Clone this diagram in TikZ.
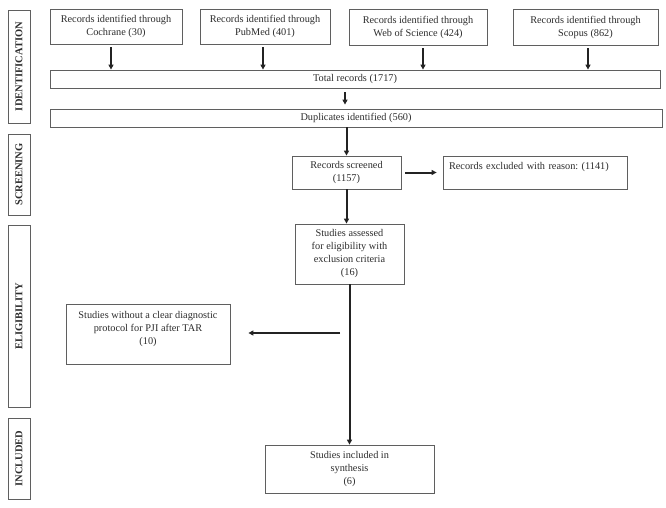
\documentclass[tikz,border=0pt]{standalone}
\usepackage{fontspec}
\setmainfont{Liberation Serif}
\usetikzlibrary{arrows.meta}
\definecolor{boxc}{RGB}{95,95,95}
\definecolor{txtc}{RGB}{45,45,45}
\definecolor{arrc}{RGB}{35,35,35}
\frenchspacing
\begin{document}
\begin{tikzpicture}[x=1pt,y=-1pt,
  box/.style={draw=boxc, line width=0.8pt, inner sep=2pt, align=center, text=txtc,
    font=\fontsize{10.3}{13}\selectfont},
  side/.style={draw=boxc, line width=0.8pt, rotate=90, inner sep=0pt, text=txtc,
    minimum height=22pt, font=\fontsize{10.5}{12}\selectfont\bfseries},
  arr/.style={draw=arrc, line width=2pt, -{Triangle[length=5pt,width=5pt]}}]
\useasboundingbox[fill=white] (0,0) rectangle (666,508);

% stage labels
\node[side, minimum width=113pt] (sid) at (19,66.5) {IDENTIFICATION};
\node[side, minimum width=81pt] (sscr) at (19,174.5) {SCREENING};
\node[side, minimum width=182pt] (seli) at (19,316) {ELIGIBILITY};
\node[side, minimum width=81pt] (sinc) at (19,458.5) {INCLUDED};

% sources
\node[box, minimum width=132pt, minimum height=35pt] (coch) at (116,26.5) {Records identified through\\Cochrane (30)};
\node[box, minimum width=130pt, minimum height=35pt] (pub) at (265,26.5) {Records identified through\\PubMed (401)};
\node[box, minimum width=138pt, minimum height=36pt] (wos) at (418,27) {Records identified through\\Web of Science (424)};
\node[box, minimum width=145pt, minimum height=36pt] (sco) at (585.5,27) {Records identified through\\Scopus (862)};

\node[box, minimum width=610pt, minimum height=18pt, inner sep=0pt] (tot) at (355,79) {Total records (1717)};
\node[box, minimum width=612pt, minimum height=18pt, inner sep=0pt] (dup) at (356,118) {Duplicates identified (560)};

\node[box, minimum width=109pt, minimum height=33pt] (scr) at (346.5,172.5) {Records screened\\(1157)};
\node[box, minimum width=184pt, minimum height=33pt, align=left, text width=172pt] (exc) at (535,172.5) {Records excluded with reason: (1141)\\ \mbox{}};
\node[box, minimum width=109pt, minimum height=60pt] (ass) at (349.5,254) {Studies assessed\\for eligibility with\\exclusion criteria\\(16)};
\node[box, minimum width=164pt, minimum height=60pt] (wo) at (148,334) {Studies without a clear diagnostic\\protocol for PJI after TAR\\(10)\\ \mbox{}};
\node[box, minimum width=169pt, minimum height=48pt] (inc) at (349.5,469) {Studies included in\\synthesis\\(6)};

% connectors
\draw[arr] ([xshift=-5pt,yshift=-3pt]coch.south) -- ([xshift=-5pt]coch.south |- tot.north);
\draw[arr] ([xshift=-2pt,yshift=-3pt]pub.south) -- ([xshift=-2pt]pub.south |- tot.north);
\draw[arr] ([xshift=5pt,yshift=-3pt]wos.south) -- ([xshift=5pt]wos.south |- tot.north);
\draw[arr] ([xshift=2.5pt,yshift=-3pt]sco.south) -- ([xshift=2.5pt]sco.south |- tot.north);
\draw[arr] ([xshift=-10pt,yshift=-4pt]tot.south) -- ([xshift=-10pt,yshift=4pt]tot.south |- dup.north);
\draw[arr] (dup.south -| scr.north) -- (scr.north);
\draw[arr] ([xshift=4pt]scr.east) -- ([xshift=-6pt]exc.west);
\draw[arr] (scr.south) -- (scr.south |- ass.north);
\draw[arr] (ass.south) -- (ass.south |- inc.north);
\coordinate (hstart) at (340,333);
\draw[arr] (hstart) -- ([xshift=18pt]hstart -| wo.east);

\end{tikzpicture}
\end{document}
